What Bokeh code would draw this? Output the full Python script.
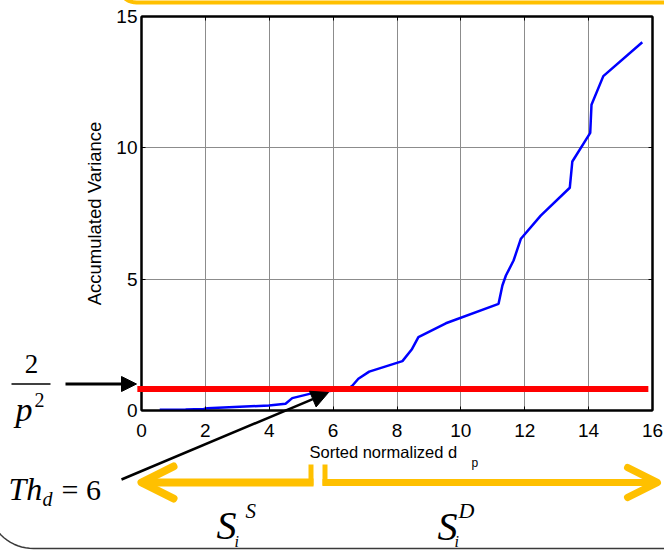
import numpy as np
from bokeh.plotting import figure
from bokeh.models import Range1d, FixedTicker, LinearAxis
from bokeh.core.properties import value
from bokeh.embed import file_html
from bokeh.resources import INLINE

# ---------------- data ----------------
sorted_dp = [0.57, 1.38, 1.95, 2.06, 3.99, 4.51, 4.72, 5.39, 5.81, 6.45,
             6.60, 6.79, 7.13, 8.17, 8.46, 8.67, 9.53, 11.18, 11.30, 11.41,
             11.65, 11.88, 12.50, 13.41, 13.49, 14.05, 14.09, 14.46, 15.68]
accum_var = [0.03, 0.04, 0.06, 0.09, 0.19, 0.26, 0.47, 0.67, 0.73, 0.82,
             0.94, 1.21, 1.48, 1.88, 2.32, 2.79, 3.32, 4.06, 4.76, 5.14,
             5.71, 6.54, 7.42, 8.48, 9.48, 10.57, 11.64, 12.73, 14.02]
threshold = 0.82                 # 2/p^2
threshold_x = [-0.13, 15.87]     # extent of the red threshold line
x_ticks = [0, 2, 4, 6, 8, 10, 12, 14, 16]
y_ticks = [0, 5, 10, 15]
x_lim = (0, 16)
y_lim = (0, 15)

# ---------------- layout ----------------
W, H = 664, 550
FL, FR, FT, FB = 141, 652, 16, 410
FW, FH = FR - FL, FB - FT

def dx(px):
    return x_lim[0] + (px - FL) * (x_lim[1] - x_lim[0]) / FW

def dy(py):
    return y_lim[0] + (FB - py) * (y_lim[1] - y_lim[0]) / FH

SANS = "Liberation Sans"
SERIF = "Liberation Serif"
YEL = "#FFC000"

p = figure(width=W, height=H, output_backend="svg", toolbar_location=None,
           x_range=Range1d(*x_lim), y_range=Range1d(*y_lim),
           min_border_left=FL, min_border_right=W - FR,
           min_border_top=FT, min_border_bottom=H - FB)
p.background_fill_color = "white"
p.border_fill_color = "white"
p.outline_line_color = "black"
p.outline_line_width = 2

def style_axis(ax, ticks, labels=True):
    ax.ticker = FixedTicker(ticks=ticks)
    ax.axis_line_color = "black"
    ax.axis_line_width = 2
    ax.major_tick_in = 4
    ax.major_tick_out = 0
    ax.major_tick_line_color = "black"
    ax.major_tick_line_width = 1
    ax.minor_tick_line_color = None
    ax.major_label_text_font = SANS
    if labels:
        ax.major_label_text_font_size = "19px"
        ax.major_label_text_color = "black"
    else:
        ax.major_label_text_font_size = "0px"
        ax.major_label_text_color = None
        ax.major_label_standoff = 0

xa = p.xaxis[0]
ya = p.yaxis[0]
style_axis(xa, x_ticks)
style_axis(ya, y_ticks)
xa.major_label_standoff = 13
ya.major_label_standoff = 4
ya.axis_label = "Accumulated Variance"
ya.axis_label_text_font = SANS
ya.axis_label_text_font_size = "18.5px"
ya.axis_label_text_font_style = "normal"
ya.axis_label_text_color = "black"
ya.axis_label_standoff = 8

top_ax = LinearAxis()
right_ax = LinearAxis()
style_axis(top_ax, x_ticks, labels=False)
style_axis(right_ax, y_ticks, labels=False)
p.add_layout(top_ax, "above")
p.add_layout(right_ax, "right")

p.xgrid.ticker = FixedTicker(ticks=x_ticks)
p.ygrid.ticker = FixedTicker(ticks=y_ticks)
p.grid.grid_line_color = "#8c8c8c"
p.grid.grid_line_width = 1

# ---------------- data marks ----------------
p.line(sorted_dp, accum_var, line_color="#0000ff", line_width=2.5)
p.line(threshold_x, [threshold, threshold], line_color="#ff0000",
       line_width=6, level="overlay")

# ---------------- annotations (unclipped overlay glyphs) ----------------
BASE_FIX = 0.36   # measured offset of the rendered alphabetic baseline (em)

def txt(s, px, py, size, italic=False, align="left", font=SERIF):
    p.text(x=[dx(px)], y=[dy(py - BASE_FIX * size)], text=[s],
           text_font=value(font), text_font_size=value(f"{size}px"),
           text_font_style="italic" if italic else "normal",
           text_align=align, text_baseline="alphabetic",
           text_color="black", level="overlay")

def polyline(pxs, pys, color, width, cap="round"):
    p.line([dx(a) for a in pxs], [dy(b) for b in pys], line_color=color,
           line_width=width, line_cap=cap, line_join="round", level="overlay")

def head_pts(sx, sy, tx, ty, size):
    v = np.array([tx - sx, ty - sy], dtype=float)
    u = v / np.hypot(*v)
    n = np.array([-u[1], u[0]])
    base = np.array([tx, ty]) - size * u
    a = base + 0.5 * size * n
    b = base - 0.5 * size * n
    return a, np.array([tx, ty]), b

def filled_arrow(sx, sy, tx, ty, size, width, color="black"):
    a, t, b = head_pts(sx, sy, tx, ty, size)
    base = (a + b) / 2
    polyline([sx, base[0]], [sy, base[1]], color, width, cap="butt")
    p.patch([dx(a[0]), dx(t[0]), dx(b[0])], [dy(a[1]), dy(t[1]), dy(b[1])],
            fill_color=color, line_color=color, line_width=1, level="overlay")

def open_arrow(sx, sy, tx, ty, size, width, color):
    a, t, b = head_pts(sx, sy, tx, ty, size)
    polyline([sx, tx], [sy, ty], color, width, cap="butt")
    polyline([a[0], t[0], b[0]], [a[1], t[1], b[1]], color, width, cap="round")

# x axis label with subscript
txt("Sorted normalized d", 309, 457, 16.5, font=SANS)
txt("p", 471, 467, 12, font=SANS)

# 2/p^2 fraction with arrow
txt("2", 31, 373, 27, align="center")
polyline([11, 50], [383.5, 383.5], "black", 1.3, cap="butt")
txt("p", 15, 421, 34, italic=True)
txt("2", 34, 407, 20)
filled_arrow(65, 383.5, 136, 383.5, 15, 3)

# Th_d = 6 with arrow
txt("Th", 8, 500, 32, italic=True)
txt("d", 42, 506, 20, italic=True)
txt("= 6", 61, 500, 30)
filled_arrow(121, 479, 328, 392, 17, 2.5)

# yellow range arrows
open_arrow(313, 482, 141, 482, 32, 8, YEL)
polyline([310.5, 310.5], [485, 464], YEL, 5, cap="butt")
open_arrow(322, 482, 657, 482, 30, 7, YEL)
polyline([324.5, 324.5], [485, 464], YEL, 5, cap="butt")

# S_i^S and S_i^D
txt("S", 216, 539, 40, italic=True)
txt("S", 245, 518, 21, italic=True)
txt("i", 234, 547, 16, italic=True)
txt("S", 437, 540, 40, italic=True)
txt("D", 458, 518, 22, italic=True)
txt("i", 454, 547, 16, italic=True)

# decorative frame pieces (rounded box edges)
th = np.radians(np.linspace(150, 90, 13))
polyline(list(33 + 46 * np.cos(th)) + [670],
         list(502 + 46 * np.sin(th)) + [548], "#3a3a3a", 1.5)

th2 = np.radians(np.linspace(180, 90, 13))
polyline(list(136 + 18 * np.cos(th2)) + [670],
         list(-16 + 18 * np.sin(th2)) + [2], YEL, 4)

open("out.html", "w").write(file_html(p, INLINE))
